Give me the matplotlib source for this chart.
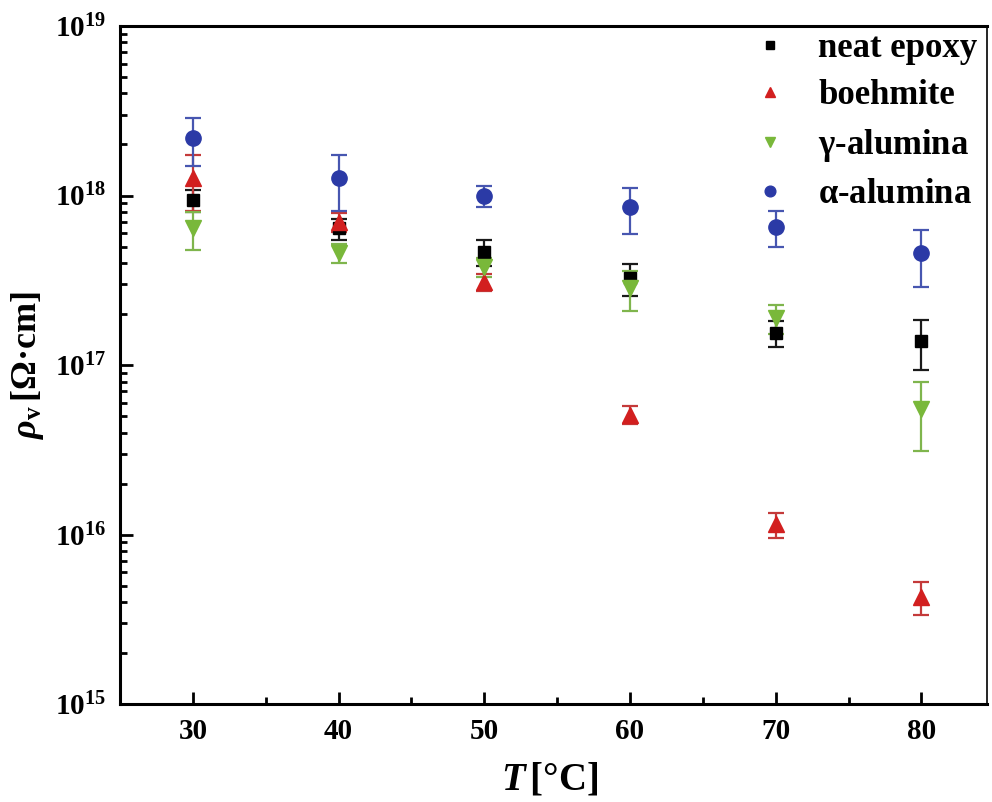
import numpy as np
import matplotlib
matplotlib.use('Agg')
from matplotlib import pyplot as plt
from matplotlib.ticker import LogLocator, MultipleLocator, FuncFormatter, NullFormatter

plt.rcParams['font.family'] = ['Liberation Serif', 'DejaVu Serif']
plt.rcParams['font.weight'] = 'bold'
plt.rcParams['mathtext.fontset'] = 'custom'
plt.rcParams['mathtext.rm'] = 'Liberation Serif:bold'
plt.rcParams['mathtext.bf'] = 'Liberation Serif:bold'
plt.rcParams['mathtext.it'] = 'Liberation Serif:italic:bold'

# temperature (deg C) and volume resistivity (Ohm cm) with std. deviation
temperature = [30, 40, 50, 60, 70, 80]

neat_epoxy = [9.4e17, 6.4e17, 4.65e17, 3.25e17, 1.55e17, 1.39e17]
neat_epoxy_err = [1.4e17, 0.9e17, 0.8e17, 0.68e17, 0.27e17, 0.45e17]

boehmite = [1.27e18, 7.0e17, 3.1e17, 5.1e16, 1.15e16, 4.3e15]
boehmite_err = [0.46e18, 0.9e17, 0.36e17, 0.6e16, 0.2e16, 0.95e15]

gamma_alumina = [6.4e17, 4.6e17, 3.8e17, 2.85e17, 1.89e17, 5.5e16]
gamma_alumina_err = [1.6e17, 0.6e17, 0.5e17, 0.76e17, 0.37e17, 2.4e16]

alpha_alumina = [2.18e18, 1.27e18, 1.0e18, 8.55e17, 6.5e17, 4.6e17]
alpha_alumina_err = [0.69e18, 0.46e18, 0.14e18, 2.6e17, 1.55e17, 1.7e17]

series = [
    ('neat epoxy', neat_epoxy, neat_epoxy_err, 's', '#000000', '#1a1a1a', 9),
    ('boehmite', boehmite, boehmite_err, '^', '#d21f1f', '#c43a3a', 11),
    (r'$\mathrm{\gamma}$-alumina', gamma_alumina, gamma_alumina_err, 'v', '#79b83a', '#7fb54d', 11),
    (r'$\mathrm{\alpha}$-alumina', alpha_alumina, alpha_alumina_err, 'o', '#2b3aa6', '#4756b0', 11),
]

fig = plt.figure(figsize=(9.92, 8.02), dpi=100)
ax = fig.add_axes([0.121, 0.122, 0.874, 0.8456])

handles = []
for label, vals, errs, marker, color, ecolor, ms in series:
    cont = ax.errorbar(temperature, vals, yerr=errs, fmt=marker, color=color, ecolor=ecolor,
                       markersize=ms, elinewidth=1.6, capsize=6, capthick=1.6, label=label)
    handles.append(cont[0])  # marker only in the legend

ax.set_yscale('log')
ax.set_ylim(1e15, 1e19)
ax.set_xlim(25, 84.5)

ax.xaxis.set_major_locator(MultipleLocator(10))
ax.xaxis.set_minor_locator(MultipleLocator(5))
ax.yaxis.set_major_locator(LogLocator(base=10, numticks=10))
ax.yaxis.set_minor_locator(LogLocator(base=10, subs=np.arange(2, 10), numticks=20))
ax.yaxis.set_minor_formatter(NullFormatter())
ax.yaxis.set_major_formatter(FuncFormatter(lambda v, p: r'$10^{%d}$' % round(np.log10(v))))

ax.tick_params(which='both', direction='in', width=2, top=False, right=False)
ax.tick_params(which='major', length=9, labelsize=21, pad=10)
ax.tick_params(which='minor', length=5)

for sp in ax.spines.values():
    sp.set_linewidth(2.2)
ax.spines['right'].set_linewidth(1.2)

ax.set_xlabel(r'$T\,$[°C]', fontsize=28, fontweight='bold')
ax.set_ylabel(r'$\rho_{\mathrm{v}}\,$[$\Omega$·cm]', fontsize=26, fontweight='bold')
ax.xaxis.set_label_coords(0.496, -0.085)
ax.yaxis.set_label_coords(-0.085, 0.5)

ax.legend(handles, [s[0] for s in series], loc='upper right', frameon=False,
          fontsize=25, markerscale=0.7, handletextpad=0.8, labelspacing=0.42,
          borderaxespad=0.0, handlelength=1.2, bbox_to_anchor=(1.005, 1.012))

fig.savefig('out.png', dpi=100)
